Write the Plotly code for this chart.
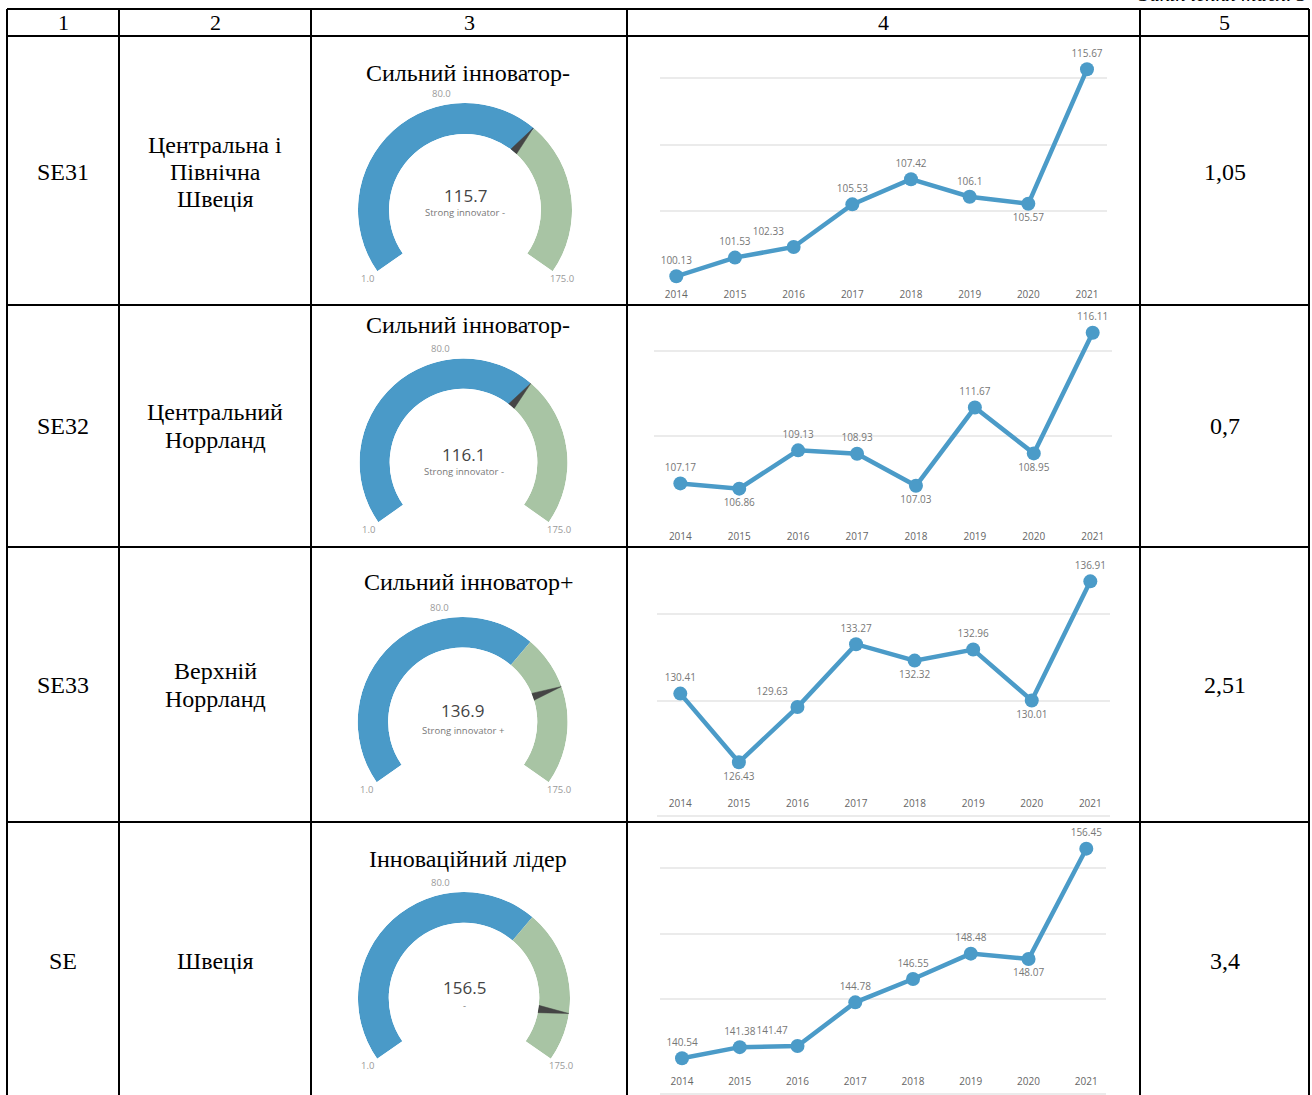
import math
import plotly.graph_objects as go

W, H = 1312, 1095

# ---------------- data ----------------
header_labels = ["1", "2", "3", "4", "5"]
region_codes = ["SE31", "SE32", "SE33", "SE"]
region_names = ["Центральна і<br>Північна<br>Швеція", "Центральний<br>Норрланд",
                "Верхній<br>Норрланд", "Швеція"]
group_names = ["Сильний інноватор-", "Сильний інноватор-", "Сильний інноватор+",
               "Інноваційний лідер"]
gauge_values = [115.7, 116.1, 136.9, 156.5]
gauge_subtitles = ["Strong innovator -", "Strong innovator -", "Strong innovator +", "-"]
gauge_min, gauge_ref, gauge_max = 1.0, 80.0, 175.0
gauge_band_split = 116.0
col5_values = ["1,05", "0,7", "2,51", "3,4"]

years = [2014, 2015, 2016, 2017, 2018, 2019, 2020, 2021]
se31_index = [100.13, 101.53, 102.33, 105.53, 107.42, 106.1, 105.57, 115.67]
se32_index = [107.17, 106.86, 109.13, 108.93, 107.03, 111.67, 108.95, 116.11]
se33_index = [130.41, 126.43, 129.63, 133.27, 132.32, 132.96, 130.01, 136.91]
se_index = [140.54, 141.38, 141.47, 144.78, 146.55, 148.48, 148.07, 156.45]
series = [se31_index, se32_index, se33_index, se_index]
label_sides = [
    ["top center", "top center", "top left", "top center", "top center", "top center", "bottom center", "top center"],
    ["top center", "bottom center", "top center", "top center", "bottom center", "top center", "bottom center", "top center"],
    ["top center", "bottom center", "top left", "top center", "bottom center", "top center", "bottom center", "top center"],
    ["top center", "top center", "top left", "top center", "top center", "top center", "bottom center", "top center"],
]
top_note = "Закінчення табл. 3"

# ---------------- styling / layout geometry ----------------
SERIF = "Liberation Serif, Times New Roman, serif"
SANS = "Open Sans, Noto Sans, sans-serif"
BLUE = "#4a9ac8"
LINE_BLUE = "#4b9bc8"
GREEN = "#a8c4a4"
NEEDLE = "#454545"


def fx(px):
    return px / W


def fy(py):
    return 1 - py / H


col_x = [7, 119, 311, 627, 1140, 1309]
row_y = [9, 36, 305, 547, 822]
row_centers = [172, 426, 685, 961]
title_y = [73, 325, 582, 859]
LINE_STEP = 27.5

# gauge geometry (centre x, centre y, radius) in pixels
gauge_geom = [(465, 210, 107), (463.5, 462.5, 104), (462.7, 722, 105), (464, 998, 106)]
value_dy = [-14, -8, -12, -11]
sub_dy = [3, 9, 8, 7]
ARC = 250.0
START = 215.0
SECTOR = [START - ARC, START]
LOW = math.sin(math.radians(ARC / 2 - 90))  # depth of sector below centre / R


def to_theta(v):
    return (v - gauge_min) / (gauge_max - gauge_min) * ARC


# line-chart geometry: x domain px, y domain px (top, bottom), x range, y range
chart_geom = [
    dict(xd=(660, 1107), yd=(40, 278), xr=(2013.722, 2021.341), yr=(100, 117.87), grid=[100, 105, 110, 115]),
    dict(xd=(654, 1112), yd=(310, 520), xr=(2013.553, 2021.328), yr=(105, 117.455), grid=[105, 110, 115]),
    dict(xd=(657, 1110), yd=(552, 787), xr=(2013.602, 2021.336), yr=(125, 138.61), grid=[125, 130, 135]),
    dict(xd=(660, 1106), yd=(828, 1065.3), xr=(2013.619, 2021.341), yr=(140, 158.02), grid=[140, 145, 150, 155]),
]

fig = go.Figure()
layout = dict(
    width=W, height=H, margin=dict(l=0, r=0, t=0, b=0),
    paper_bgcolor="white", plot_bgcolor="white", showlegend=False,
)

annotations = []
shapes = []


def note(x, y, text, font, **kw):
    d = dict(x=fx(x), y=fy(y), xref="paper", yref="paper", text=text, showarrow=False,
             xanchor="center", yanchor="middle", font=font)
    d.update(kw)
    annotations.append(d)


# ---------------- gauges ----------------
for i in range(4):
    cx, cy, R = gauge_geom[i]
    pname = "polar" if i == 0 else f"polar{i + 1}"
    t_split = to_theta(gauge_band_split)
    t_end = to_theta(gauge_max)
    fig.add_trace(go.Barpolar(
        theta=[t_split / 2, (t_split + t_end) / 2],
        width=[t_split, t_end - t_split],
        r=[1, 1], base=[0, 0],
        marker=dict(color=[BLUE, GREEN], line=dict(width=0)),
        subplot=pname, hoverinfo="skip",
    ))
    tn = to_theta(gauge_values[i])
    d = 2.8
    fig.add_trace(go.Scatterpolar(
        r=[0, 1, 0, 0], theta=[tn - d, tn, tn + d, tn - d],
        mode="lines", fill="toself", fillcolor=NEEDLE,
        line=dict(color=NEEDLE, width=0.5), subplot=pname, hoverinfo="skip",
    ))
    layout[pname] = dict(
        domain=dict(x=[fx(cx - R), fx(cx + R)], y=[fy(cy + LOW * R), fy(cy - R)]),
        sector=SECTOR,
        hole=0.71, bgcolor="rgba(0,0,0,0)",
        radialaxis=dict(range=[0, 1], visible=False),
        angularaxis=dict(
            rotation=START, direction="clockwise", thetaunit="degrees",
            showgrid=False, showline=False, ticks="", showticklabels=False,
        ),
    )
    # scale labels of the gauge (min, reference, max) placed just outside the arc
    for v in (gauge_min, gauge_ref, gauge_max):
        a = math.radians(START - to_theta(v))
        rr = R + 12
        note(cx + rr * math.cos(a), cy - rr * math.sin(a), f"{v:.1f}",
             dict(family=SANS, size=9.5, color="#9a9a9a"))
    note(cx, cy + value_dy[i], f"{gauge_values[i]:.1f}",
         dict(family=SANS, size=17, color="#444444"))
    note(cx, cy + sub_dy[i], gauge_subtitles[i],
         dict(family=SANS, size=9.5, color="#777777"))

# ---------------- line charts ----------------
for i in range(4):
    g = chart_geom[i]
    xa = "x" if i == 0 else f"x{i + 1}"
    ya = "y" if i == 0 else f"y{i + 1}"
    fig.add_trace(go.Scatter(
        x=years, y=series[i], mode="lines+markers+text",
        text=[str(v) for v in series[i]],
        textposition=label_sides[i],
        textfont=dict(family=SANS, size=10, color="#777777"),
        line=dict(color=LINE_BLUE, width=4.5),
        marker=dict(size=14, color=LINE_BLUE),
        cliponaxis=False, xaxis=xa, yaxis=ya, hoverinfo="skip",
    ))
    xkey = "xaxis" if i == 0 else f"xaxis{i + 1}"
    ykey = "yaxis" if i == 0 else f"yaxis{i + 1}"
    layout[xkey] = dict(
        domain=[fx(g["xd"][0]), fx(g["xd"][1])], range=list(g["xr"]), anchor=ya,
        tickmode="array", tickvals=years, ticktext=[str(y) for y in years],
        showgrid=False, zeroline=False, showline=False, ticks="",
        ticklabelstandoff=9,
        tickfont=dict(family=SANS, size=10, color="#666666"),
    )
    layout[ykey] = dict(
        domain=[fy(g["yd"][1]), fy(g["yd"][0])], range=list(g["yr"]), anchor=xa,
        tickmode="array", tickvals=g["grid"], showticklabels=False,
        showgrid=True, gridcolor="#ebebeb", gridwidth=1.5, zeroline=False, showline=False,
    )

# faint bottom edges of the chart images in rows 3 and 4
for i, yb in [(2, 816), (3, 1094)]:
    g = chart_geom[i]
    shapes.append(dict(type="line", xref="paper", yref="paper",
                       x0=fx(g["xd"][0]), x1=fx(g["xd"][1]), y0=fy(yb), y1=fy(yb),
                       line=dict(color="#e4e4e4", width=1.5)))

# ---------------- table borders ----------------
for xv in col_x:
    shapes.append(dict(type="line", xref="paper", yref="paper", x0=fx(xv), x1=fx(xv),
                       y0=fy(row_y[0]), y1=0, line=dict(color="black", width=2)))
for yv in row_y:
    shapes.append(dict(type="line", xref="paper", yref="paper", x0=fx(col_x[0]), x1=fx(col_x[-1]),
                       y0=fy(yv), y1=fy(yv), line=dict(color="black", width=2)))

# ---------------- table texts ----------------
serif_font = dict(family=SERIF, size=24, color="black")
header_cx = [(col_x[k] + col_x[k + 1]) / 2 for k in range(5)]
for k, lab in enumerate(header_labels):
    note(header_cx[k], 22.5, lab, dict(family=SERIF, size=22, color="black"))

for i in range(4):
    yc = row_centers[i]
    note(63, yc, region_codes[i], serif_font)
    lines = region_names[i].split("<br>")
    for j, ln in enumerate(lines):
        note(215, yc + (j - (len(lines) - 1) / 2) * LINE_STEP, ln, serif_font)
    note(1225, yc, col5_values[i], serif_font)
    note(468, title_y[i], group_names[i], serif_font)

note(1309, -6, f"<i>{top_note}</i>", dict(family=SERIF, size=21, color="black"),
     xanchor="right")

layout["annotations"] = annotations
layout["shapes"] = shapes
fig.update_layout(**layout)
fig.write_html("out.html", config={"displayModeBar": False},
               post_script="document.body.style.margin='0';document.body.style.overflow='hidden';")
